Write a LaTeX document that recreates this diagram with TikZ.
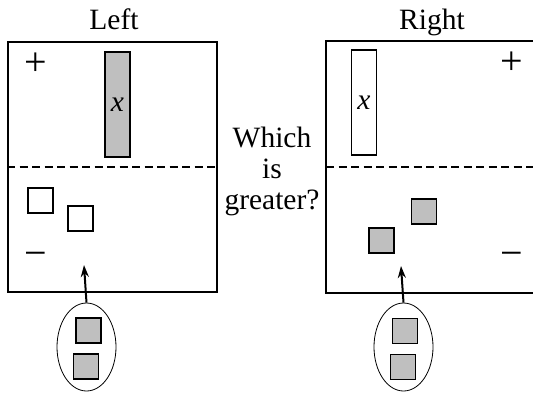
\documentclass[tikz,border=0pt]{standalone}
\usepackage{fontspec}
\setmainfont{Liberation Serif}
\usetikzlibrary{arrows.meta}
\usetikzlibrary{shapes}
\usetikzlibrary{positioning}

\begin{document}
\begin{tikzpicture}[x=1pt, y=-1pt, >={Stealth[length=12pt,width=8pt]},
	font=\fontsize{29.5}{31}\selectfont,
	pane/.style={rectangle, line width=1.6pt, minimum width=209pt,
				minimum height=250pt, inner sep=0pt},
	unit/.style={rectangle, draw, line width=1.5pt, minimum size=25pt, inner sep=0pt},
	xbar/.style={rectangle, draw, line width=1.3pt, minimum width=25pt,
				minimum height=105pt, inner sep=0pt},
	bag/.style={ellipse, draw, line width=0.8pt, minimum width=59pt,
				minimum height=88pt, inner sep=0pt},
	sign/.style={font=\fontsize{40}{40}\selectfont, inner sep=0pt},
	shade/.style={fill=black!25},
	divider/.style={line width=1.3pt, dash pattern=on 8pt off 4.5pt},
	push/.style={->, line width=2pt},
]
\useasboundingbox (0,0) rectangle (533,392);
\clip (0,0) rectangle (533,392);
% left side
\node [anchor=base] (lefttitle) at (114,29) {Left};
\node [pane, draw] (lpane) at (112.5,167) {};
\draw [divider] (lpane.west) -- (lpane.east);
\node [sign] (lplus)  at (36,64)  {+};
\node [sign] (lminus) at (36,259) {−};
\node [xbar, shade] (lx) at (117.5,104.5) {\textit{x}};
\node [unit] (lu1) at (40.5,200.5) {};
\node [unit] (lu2) at (80.5,218.5) {};
\node [bag] (lbag) at (86.5,347) {};
\node [unit, shade] (lb1) at (88.5,330.5) {};
\node [unit, shade] (lb2) at (86,366.5) {};
\coordinate (ltip) at (84,265);
%
% right side (cut off by the page edge)
\node [anchor=base] (righttitle) at (432,29) {Right};
\node [pane] (rpane) at (431.5,167) {};
\draw [line width=1.6pt] (rpane.north east) -- (rpane.north west)
	-- (rpane.south west) -- (rpane.south east);
\draw [divider] (rpane.west) -- (rpane.east);
\node [sign] (rplus)  at (512,63)  {+};
\node [sign] (rminus) at (512,259) {−};
\node [xbar] (rx) at (364,102.5) {\textit{x}};
\node [unit, shade] (ru1) at (424,211.5) {};
\node [unit, shade] (ru2) at (381.5,240.5) {};
\node [bag] (rbag) at (403.5,347) {};
\node [unit, shade] (rb1) at (405,331) {};
\node [unit, shade] (rb2) at (403,367) {};
\coordinate (rtip) at (401,266);
%
\node [align=center] (question) at (272,171) {Which\\is\\greater?};
%
\draw [push] (lbag.north) -- (ltip);
\draw [push] (rbag.north) -- (rtip);
\end{tikzpicture}
\end{document}
